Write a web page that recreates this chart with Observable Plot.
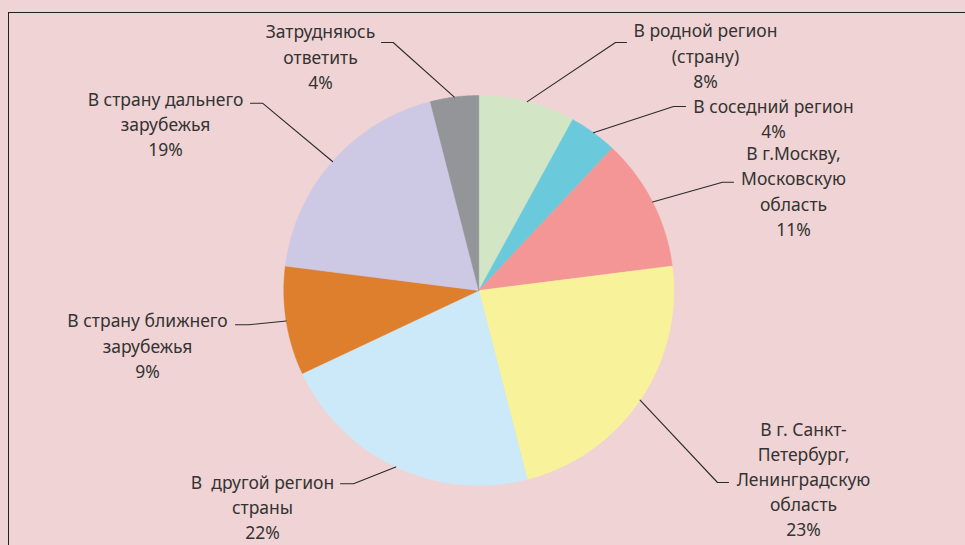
<!DOCTYPE html>
<html>
<head>
<meta charset="utf-8">
<script src="https://cdn.jsdelivr.net/npm/d3@7"></script>
<script src="https://cdn.jsdelivr.net/npm/@observablehq/plot@0.6"></script>
<style>
  html, body { margin: 0; padding: 0; background: #f0d3d4; overflow: hidden; }
  #wrap { position: relative; width: 965px; height: 545px; }
  #border { position: absolute; left: 8px; top: 12px; width: 1200px; height: 800px;
            border-left: 1.5px solid #222; border-top: 1.5px solid #222; box-sizing: border-box; }
  #chart { position: absolute; left: 0; top: 0; }
</style>
</head>
<body>
<div id="wrap"><div id="border"></div><div id="chart"></div></div>
<script>
// Data
const categories = [
  "В родной регион\n(страну)",
  "В соседний регион",
  "В г.Москву,\nМосковскую\nобласть",
  "В г. Санкт-\nПетербург,\nЛенинградскую\nобласть",
  "В  другой регион\nстраны",
  "В страну ближнего\nзарубежья",
  "В страну дальнего\nзарубежья",
  "Затрудняюсь\nответить"
];
const values = [8, 4, 11, 23, 22, 9, 19, 4];
const colors = ["#d2e6c6", "#6acadb", "#f49596", "#f8f39a", "#cbe9f8", "#dd7f2d", "#cdc9e5", "#939598"];

// Layout (pixel positions of label block centres and leader elbows)
const W = 965, H = 545, CX = 478.3, CY = 290, R = 195;
const labelLayout = [
  {tx: 705, ty: 54,    ex: 626, elx: 615,   ey: 42},
  {tx: 773, ty: 117,   ex: 685, elx: 673,   ey: 106},
  {tx: 793, ty: 189.5, ex: 733, elx: 722,   ey: 181.7},
  {tx: 803, ty: 477.5, ex: 728, elx: 717,   ey: 482},
  {tx: 262, ty: 505.5, ex: 340, elx: 353,   ey: 483.3},
  {tx: 147, ty: 344,   ex: 235, elx: 248,   ey: 324.3},
  {tx: 165, ty: 122.5, ex: 250, elx: 262,   ey: 102.7},
  {tx: 320, ty: 55,    ex: 381, elx: 392.7, ey: 42}
];
const ux = px => (px - CX) / R;
const uy = py => (CY - py) / R;

// Pie geometry in unit coordinates
const total = d3.sum(values);
const slices = [];
const leaders = [];
const labels = [];
let acc = 0;
values.forEach((v, i) => {
  const a0 = acc / total * 2 * Math.PI;
  const a1 = (acc + v) / total * 2 * Math.PI;
  acc += v;
  const n = Math.max(8, Math.ceil((a1 - a0) / 0.01));
  slices.push({k: i, x: 0, y: 0});
  for (let j = 0; j <= n; j++) {
    const a = a0 + (a1 - a0) * j / n;
    slices.push({k: i, x: Math.sin(a), y: Math.cos(a)});
  }
  slices.push({k: i, x: 0, y: 0});
  const am = (a0 + a1) / 2;
  const L = labelLayout[i];
  leaders.push({k: i, x: Math.sin(am), y: Math.cos(am)});
  leaders.push({k: i, x: ux(L.elx), y: uy(L.ey)});
  leaders.push({k: i, x: ux(L.ex), y: uy(L.ey)});
  labels.push({x: ux(L.tx), y: uy(L.ty), text: categories[i] + "\n" + v + "%"});
});

const chart = Plot.plot({
  width: W,
  height: H,
  margin: 0,
  x: {domain: [ux(0), ux(W)], axis: null},
  y: {domain: [uy(H), uy(0)], axis: null},
  style: {background: "transparent", overflow: "visible"},
  marks: [
    Plot.line(slices, {x: "x", y: "y", z: "k", fill: d => colors[d.k], stroke: d => colors[d.k], strokeWidth: 0.5, curve: "linear"}),
    Plot.line(leaders, {x: "x", y: "y", z: "k", stroke: "#2b2b2b", strokeWidth: 1.1}),
    Plot.text(labels, {x: "x", y: "y", text: "text", fill: "#333", fontSize: 17.5, lineHeight: 1.44,
      fontFamily: "'Noto Sans', sans-serif", textAnchor: "middle"})
  ]
});
document.getElementById("chart").appendChild(chart);
</script>
</body>
</html>
